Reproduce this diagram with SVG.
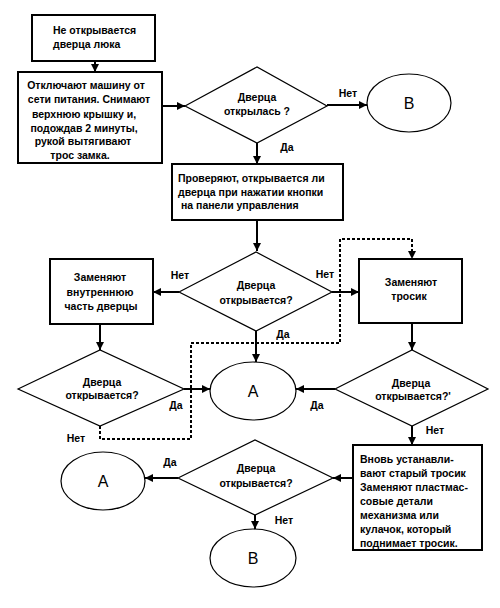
<svg xmlns="http://www.w3.org/2000/svg" width="500" height="608" viewBox="0 0 500 608">
<style>
.box{fill:#fff;stroke:#000;stroke-width:2}
.dia{fill:#fff;stroke:#000;stroke-width:1.2}
.ell{fill:#fff;stroke:#000;stroke-width:1.2}
.t{font-family:"Liberation Sans",Arial,sans-serif;font-weight:bold;font-size:10.5px;fill:#000}
.c{text-anchor:middle}
.big{font-family:"Liberation Sans",Arial,sans-serif;font-size:16px;fill:#000;text-anchor:middle}
.ln{fill:none;stroke:#000;stroke-width:2}
.dash{fill:none;stroke:#000;stroke-width:2;stroke-dasharray:3,2}
</style>
<defs>
<marker id="ah" viewBox="0 0 10 10" refX="10" refY="5" markerWidth="8" markerHeight="8" markerUnits="userSpaceOnUse" orient="auto">
<path d="M0,0 L10,5 L0,10 z" fill="#000"/>
</marker>
</defs>
<rect width="500" height="608" fill="#fff"/>

<g id="connectors">
<line class="ln" x1="95" y1="61" x2="95" y2="72" marker-end="url(#ah)"/>
<line class="ln" x1="162" y1="106" x2="185" y2="106" marker-end="url(#ah)"/>
<line class="ln" x1="327" y1="105" x2="367" y2="105" marker-end="url(#ah)"/>
<line class="ln" x1="257" y1="143" x2="257" y2="164" marker-end="url(#ah)"/>
<line class="ln" x1="257" y1="220" x2="257" y2="251" marker-end="url(#ah)"/>
<line class="ln" x1="179" y1="292" x2="153" y2="292" marker-end="url(#ah)"/>
<line class="ln" x1="332" y1="292" x2="359" y2="292" marker-end="url(#ah)"/>
<line class="ln" x1="256" y1="331" x2="256" y2="362" marker-end="url(#ah)"/>
<line class="ln" x1="100" y1="324" x2="100" y2="350" marker-end="url(#ah)"/>
<line class="ln" x1="184" y1="389" x2="210" y2="389" marker-end="url(#ah)"/>
<line class="ln" x1="412" y1="323" x2="412" y2="350" marker-end="url(#ah)"/>
<line class="ln" x1="335" y1="389" x2="296" y2="389" marker-end="url(#ah)"/>
<line class="ln" x1="412" y1="426" x2="412" y2="445" marker-end="url(#ah)"/>
<line class="ln" x1="353" y1="478" x2="333" y2="478" marker-end="url(#ah)"/>
<line class="ln" x1="178" y1="478" x2="145" y2="478" marker-end="url(#ah)"/>
<line class="ln" x1="255" y1="515" x2="255" y2="529" marker-end="url(#ah)"/>
<polyline class="dash" points="100,426 100,439 191,439 191,343 340,343 340,239 412,239 412,259"/>
<path d="M408,251 L416,251 L412,259 z" fill="#000"/>
</g>

<g id="start">
<rect class="box" x="32" y="15" width="123" height="46"/>
<text class="t" x="53" y="34">Не открывается</text>
<text class="t" x="53" y="48">дверца люка</text>
</g>

<g id="unplug">
<rect class="box" x="18" y="72" width="144" height="91"/>
<text class="t c" x="86" y="89">Отключают машину от</text>
<text class="t c" x="89" y="103">сети питания. Снимают</text>
<text class="t c" x="84" y="118">верхнюю крышку и,</text>
<text class="t c" x="84" y="132">подождав 2 минуты,</text>
<text class="t c" x="83" y="145">рукой вытягивают</text>
<text class="t c" x="80" y="159">трос замка.</text>
</g>

<g id="q1">
<polygon class="dia" points="185,106 257,67 327,106 257,143"/>
<text class="t c" x="257" y="101">Дверца</text>
<text class="t c" x="257" y="115">открылась ?</text>
<text class="t c" x="348" y="97">Нет</text>
<text class="t c" x="287" y="151">Да</text>
</g>

<g id="b1">
<ellipse class="ell" cx="409" cy="103" rx="42" ry="29"/>
<text class="big" x="409" y="109">В</text>
</g>

<g id="check">
<rect class="box" x="172" y="164" width="171" height="56"/>
<text class="t" x="178" y="182">Проверяют, открывается ли</text>
<text class="t" x="178" y="196">дверца при нажатии кнопки</text>
<text class="t" x="181" y="209">на панели управления</text>
</g>

<g id="q2">
<polygon class="dia" points="179,292 256,252 332,292 256,331"/>
<text class="t c" x="256" y="289">Дверца</text>
<text class="t c" x="256" y="304">открывается?</text>
<text class="t c" x="180" y="279">Нет</text>
<text class="t c" x="325" y="278">Нет</text>
<text class="t c" x="283" y="338">Да</text>
</g>

<g id="inner">
<rect class="box" x="50" y="259" width="103" height="65"/>
<text class="t c" x="100" y="281">Заменяют</text>
<text class="t c" x="100" y="296">внутреннюю</text>
<text class="t c" x="101" y="310">часть дверцы</text>
</g>

<g id="cable">
<rect class="box" x="359" y="259" width="103" height="64"/>
<text class="t c" x="411" y="286">Заменяют</text>
<text class="t c" x="409" y="300">тросик</text>
</g>

<g id="q3">
<polygon class="dia" points="18,389 100,350 184,389 100,426"/>
<text class="t c" x="102" y="386">Дверца</text>
<text class="t c" x="102" y="399">открывается?</text>
<text class="t c" x="176" y="409">Да</text>
<text class="t c" x="76" y="442">Нет</text>
</g>

<g id="a1">
<ellipse class="ell" cx="253" cy="391" rx="43" ry="29"/>
<text class="big" x="253" y="397">А</text>
</g>

<g id="q4">
<polygon class="dia" points="335,389 412,350 488,389 412,426"/>
<text class="t c" x="411" y="387">Дверца</text>
<text class="t c" x="413" y="400">открывается?'</text>
<text class="t c" x="317" y="409">Да</text>
<text class="t c" x="435" y="434">Нет</text>
</g>

<g id="reinstall">
<rect class="box" x="353" y="445" width="129" height="105"/>
<text class="t" x="360" y="463">Вновь устанавли-</text>
<text class="t" x="360" y="477">вают старый тросик</text>
<text class="t" x="360" y="491">Заменяют пластмас-</text>
<text class="t" x="360" y="505">совые детали</text>
<text class="t" x="360" y="519">механизма или</text>
<text class="t" x="360" y="533">кулачок, который</text>
<text class="t" x="360" y="547">поднимает тросик.</text>
</g>

<g id="q5">
<polygon class="dia" points="178,478 255,440 333,478 255,515"/>
<text class="t c" x="256" y="472">Дверца</text>
<text class="t c" x="256" y="487">открывается?</text>
<text class="t c" x="170" y="466">Да</text>
<text class="t c" x="284" y="524">Нет</text>
</g>

<g id="a2">
<ellipse class="ell" cx="103" cy="481" rx="42" ry="29"/>
<text class="big" x="103" y="487">А</text>
</g>

<g id="b2">
<ellipse class="ell" cx="253" cy="558" rx="43" ry="29"/>
<text class="big" x="253" y="564">В</text>
</g>
</svg>
